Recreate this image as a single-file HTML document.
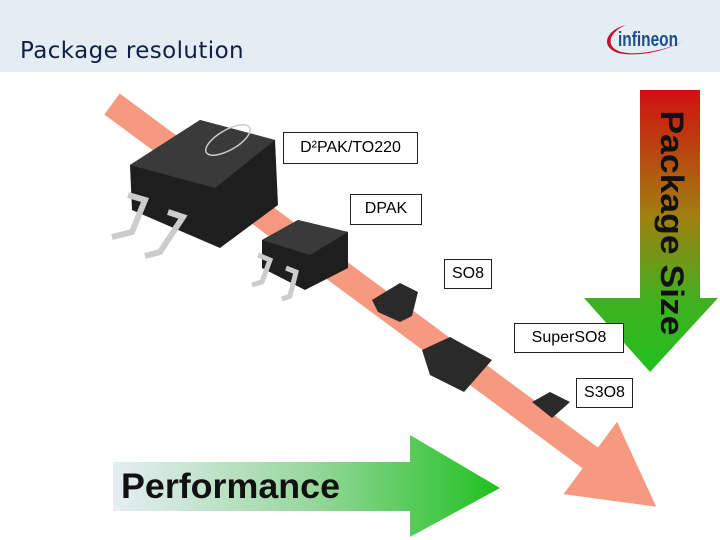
<!DOCTYPE html>
<html><head><meta charset="utf-8"><style>
body{margin:0;width:720px;height:540px;overflow:hidden;background:#fff;font-family:"Liberation Sans",sans-serif;position:relative}
.hdr{position:absolute;left:0;top:0;width:720px;height:72px;background:#e4ecf4}
.title{position:absolute;left:20px;top:38px;font-size:23px;color:#102040;font-family:"DejaVu Sans","Liberation Sans",sans-serif;letter-spacing:0.4px}
.lbl{position:absolute;background:#fff;border:1px solid #222;font-size:16px;color:#000;line-height:28px;text-align:center}
</style></head><body>
<div class="hdr"></div>
<div class="title">Package resolution</div>
<svg style="position:absolute;left:0;top:0" width="720" height="540">
<defs>
<linearGradient id="gv" x1="0" y1="0" x2="0" y2="1">
<stop offset="0" stop-color="#d01010"/><stop offset="0.45" stop-color="#a08010"/><stop offset="0.75" stop-color="#40b020"/><stop offset="1" stop-color="#20c020"/></linearGradient>
<linearGradient id="gh" x1="0" y1="0" x2="1" y2="0">
<stop offset="0" stop-color="#e6eef4"/><stop offset="0.5" stop-color="#9ad8a0"/><stop offset="1" stop-color="#20c020"/></linearGradient>
</defs>
<!-- logo -->
<path d="M626 25 C 604 34, 603 56, 640 53 C 660 51, 675 46, 684 40 C 672 49, 640 58, 618 53 C 598 46, 608 29, 626 25 Z" fill="#c8102e"/>
<text x="618" y="46" font-family="Liberation Sans Narrow,Liberation Sans,sans-serif" font-weight="bold" font-size="20" fill="#1a4f8f" textLength="60" lengthAdjust="spacingAndGlyphs">infineon</text>
<!-- salmon arrow -->
<g transform="translate(112,104) rotate(36.5)">
<rect x="0" y="-13" width="600" height="26" fill="#f59a80"/>
<polygon points="595,-45 677,0 595,45" fill="#f59a80"/>
</g>
<!-- package size arrow -->
<polygon points="640,90 700,90 700,298 718,298 650,372 584,298 640,298" fill="url(#gv)"/>
<text transform="translate(661,223) rotate(90)" text-anchor="middle" font-weight="bold" font-size="32" fill="#111" textLength="225" lengthAdjust="spacingAndGlyphs">Package Size</text>
<!-- performance arrow -->
<polygon points="113,462 410,462 410,435 500,488 410,537 410,511 113,511" fill="url(#gh)"/>
<text x="121" y="498" font-weight="bold" font-size="35" fill="#111" textLength="219" lengthAdjust="spacingAndGlyphs">Performance</text>
<!-- D2PAK -->
<polygon points="130,165 200,120 275,140 278,205 220,248 132,210" fill="#1e1e1e"/>
<polygon points="130,165 200,120 275,140 215,188" fill="#3a3a3a"/>
<ellipse cx="228" cy="140" rx="25" ry="10" fill="none" stroke="#ccc" stroke-width="1.5" transform="rotate(-30 228 140)"/>
<path d="M128 195 L145 200 L132 232 L112 237" fill="none" stroke="#ccc" stroke-width="6"/>
<path d="M168 212 L183 217 L160 252 L145 256" fill="none" stroke="#ccc" stroke-width="6"/>
<!-- DPAK -->
<polygon points="262,240 298,220 348,232 348,268 305,290 262,268" fill="#1e1e1e"/>
<polygon points="262,240 298,220 348,232 310,255" fill="#3a3a3a"/>
<path d="M258 255 L270 260 L262 282 L252 285" fill="none" stroke="#ccc" stroke-width="5"/>
<path d="M286 268 L296 272 L290 296 L282 299" fill="none" stroke="#ccc" stroke-width="5"/>
<!-- SO8 -->
<polygon points="372,300 400,283 418,292 412,316 400,322 378,312" fill="#2a2a2a"/>
<!-- SuperSO8 -->
<polygon points="422,350 450,337 492,360 464,392 430,375" fill="#2a2a2a"/>
<!-- S3O8 -->
<polygon points="532,402 550,392 570,402 552,418" fill="#2a2a2a"/>
</svg>
<div class="lbl" style="left:283px;top:132px;width:133px;height:30px;line-height:30px">D²PAK/TO220</div>
<div class="lbl" style="left:350px;top:194px;width:70px;height:29px">DPAK</div>
<div class="lbl" style="left:444px;top:259px;width:46px;height:28px">SO8</div>
<div class="lbl" style="left:514px;top:323px;width:108px;height:28px">SuperSO8</div>
<div class="lbl" style="left:576px;top:378px;width:55px;height:28px">S3O8</div>
</body></html>
